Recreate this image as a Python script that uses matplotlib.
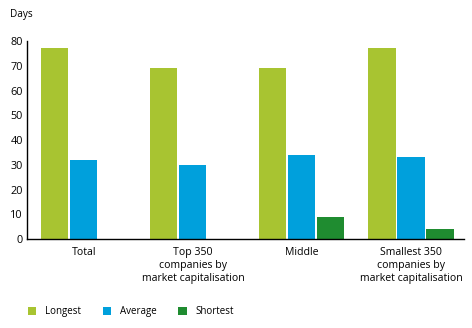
import numpy as np
import matplotlib.pyplot as plt
from matplotlib.patches import Patch

plt.rcParams['font.family'] = ['Open Sans', 'DejaVu Sans']

# data
groups = ['Total', 'Top 350\ncompanies by\nmarket capitalisation', 'Middle',
          'Smallest 350\ncompanies by\nmarket capitalisation']
series = ['Longest', 'Average', 'Shortest']
longest = [77, 69, 69, 77]
average = [32, 30, 34, 33]
shortest = [0, 0, 9, 4]
colors = ['#A8C431', '#00A0DC', '#1F8C30']

fig = plt.figure(figsize=(4.72, 3.28), dpi=100)
ax = fig.add_axes([0.057, 0.271, 0.926, 0.604])

x = np.arange(len(groups))
w = 0.248
step = 0.266
for k, (vals, c) in enumerate(zip([longest, average, shortest], colors)):
    ax.bar(x + (k - 1) * step, vals, width=w, color=c, linewidth=0)

ax.set_xlim(-0.523, 3.486)
ax.set_ylim(0, 80)
ax.set_yticks(range(0, 81, 10))
ax.set_xticks(x)
ax.set_xticklabels(groups, fontsize=7.6, linespacing=1.2)
ax.tick_params(axis='both', length=0)
ax.tick_params(axis='y', labelsize=7.8, pad=3)
ax.tick_params(axis='x', pad=6)
for s in ['top', 'right']:
    ax.spines[s].set_visible(False)
for s in ['left', 'bottom']:
    ax.spines[s].set_linewidth(1)
    ax.spines[s].set_color('black')

fig.text(0.021, 0.957, 'Days', fontsize=7.2, va='center', ha='left')

handles = [Patch(facecolor=c, edgecolor='none') for c in colors]
fig.legend(handles, series, loc='center left', bbox_to_anchor=(0.04, 0.05),
           ncol=3, frameon=False, fontsize=7, handlelength=0.9, handleheight=0.9,
           handletextpad=0.9, columnspacing=2.2)

fig.savefig('out.png', dpi=100)
